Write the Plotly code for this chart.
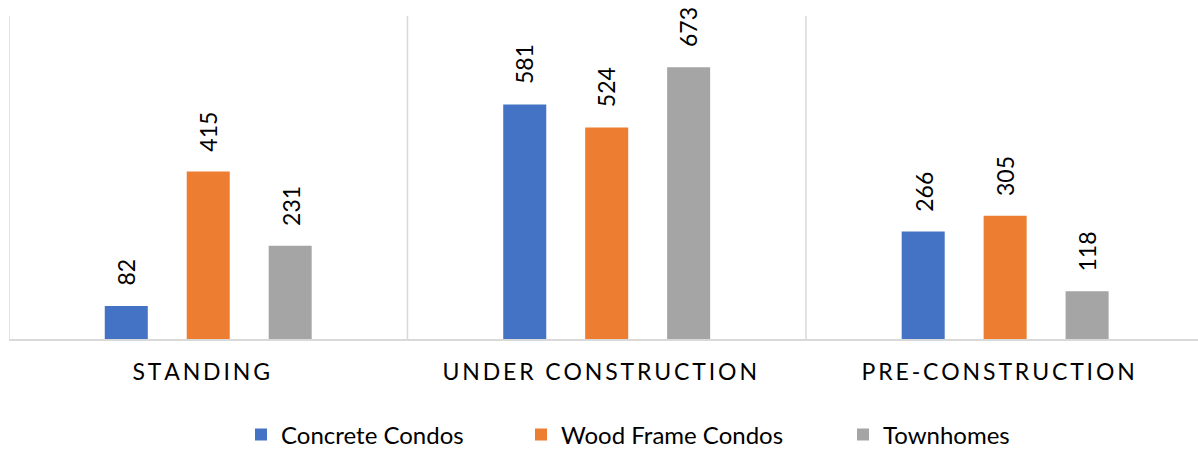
import plotly.graph_objects as go

categories = ["STANDING", "UNDER CONSTRUCTION", "PRE-CONSTRUCTION"]
series_names = ["Concrete Condos", "Wood Frame Condos", "Townhomes"]
concrete = [82, 581, 266]
wood = [415, 524, 305]
town = [231, 673, 118]
colors = ["#4472C4", "#ED7D31", "#A5A5A5"]

values = [concrete, wood, town]
FONT = "Lato"
legend_ids = ["legend", "legend2", "legend3"]
legend_px = [241, 521, 843]

def spaced(s):
    return "\u2009".join(list(s))

fig = go.Figure()
for name, vals, col, lg in zip(series_names, values, colors, legend_ids):
    fig.add_trace(go.Bar(x=categories, y=vals, name=name, marker_color=col,
                         marker_line_width=0, legend=lg))

annotations = []
for i, vals in enumerate(values):
    for c, v in zip(categories, vals):
        annotations.append(dict(x=c, y=v, text=str(v), textangle=-90, showarrow=False,
                                xref="x", yref="y", xanchor="center", yanchor="bottom",
                                xshift=(i - 1) * 82, yshift=18,
                                font=dict(family=FONT, size=23, color="#000000")))

shapes = []
for k in [-0.5, 0.5, 1.5]:
    shapes.append(dict(type="line", xref="x", yref="paper", x0=k, x1=k, y0=0, y1=1,
                       line=dict(color="#D9D9D9", width=1.5), layer="below"))

legend_common = dict(orientation="h", xref="container", yref="container",
                     xanchor="left", yanchor="middle", y=1 - 435 / 449,
                     font=dict(family=FONT, size=24, color="#000000"),
                     bgcolor="rgba(0,0,0,0)")

layout_legends = {}
for lg, px in zip(legend_ids, legend_px):
    layout_legends[lg] = dict(legend_common, x=px / 1198)

fig.update_layout(
    width=1198, height=449,
    margin=dict(l=9, r=0, t=16, b=110),
    paper_bgcolor="white", plot_bgcolor="white",
    barmode="group", bargap=0.383, bargroupgap=0.475,
    font=dict(family=FONT, size=23, color="#000000"),
    xaxis=dict(range=[-0.5, 2.484], tickmode="array", tickvals=categories,
               ticktext=[spaced(c) for c in categories], automargin=False,
               showgrid=False, showline=True, linecolor="#D9D9D9", linewidth=1.5,
               ticks="", ticklabelstandoff=12, ticklabelshift=-7,
               tickfont=dict(family=FONT, size=23, color="#000000")),
    yaxis=dict(range=[0, 800], visible=False, showgrid=False, automargin=False),
    showlegend=True,
    annotations=annotations, shapes=shapes,
    **layout_legends,
)

fig.write_html("out.html")
